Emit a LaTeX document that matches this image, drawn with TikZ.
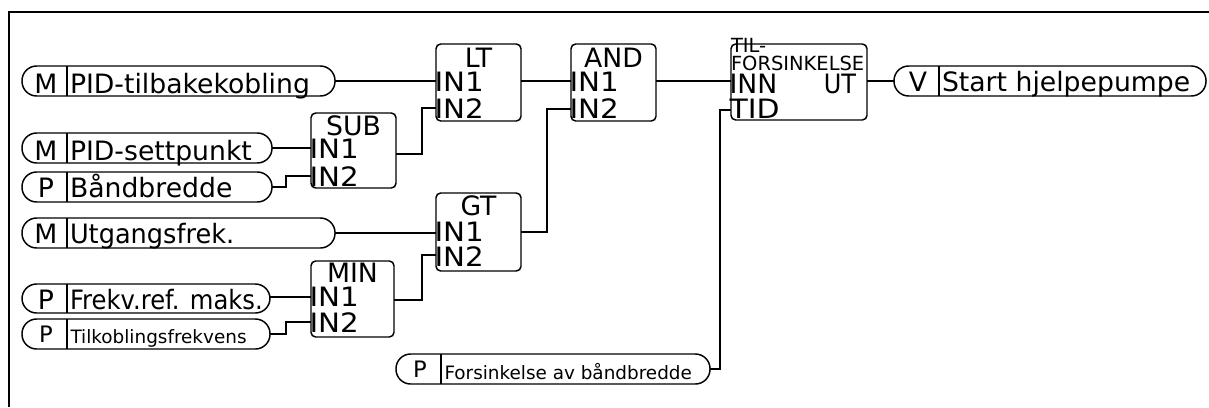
\documentclass[tikz,border=0pt]{standalone}
\usepackage{fontspec}
\setmainfont{DejaVu Sans}
\usetikzlibrary{fit}
\newcommand\fbig{\fontsize{20pt}{21pt}\selectfont}
\newcommand\fmed{\fontsize{14.6pt}{15pt}\selectfont}
\newcommand\fsmall{\fontsize{13.8pt}{14pt}\selectfont}
\newcommand\fletter{\fontsize{17pt}{18pt}\selectfont}
\newcommand\widen[2]{\scalebox{#1}[1]{#2}}
\tikzset{
  every node/.style={inner sep=0pt, outer sep=0pt},
  pill/.style={draw, line width=1.1pt, rounded corners=11pt},
  fblock/.style={draw, line width=1.1pt, rounded corners=3.5pt},
  wire/.style={line width=1.1pt},
  divider/.style={line width=1.1pt},
  frameline/.style={line width=1.5pt},
  capbig/.style={font=\fbig, text height=14.6pt, text depth=0pt},
  capmed/.style={font=\fmed, text height=10.6pt, text depth=0pt},
}
% name, x1, y1, x2, y2, letter, text, baseline offset from bottom
\newcommand\pillnode[8]{%
  \node[pill, fit={(#2,#3) (#4,#5)}] (#1) {};
  \draw[divider] (#2+45,#3) -- (#2+45,#5);
  \node[anchor=base, font=\fbig] (#1-l) at (#2+24,#5-#8) {#6};
  \node[anchor=base west, font=\fbig] (#1-t) at (#2+48,#5-#8) {#7};
}
\begin{document}
\begin{tikzpicture}[x=0.75pt,y=-0.75pt]
\useasboundingbox (0,0) rectangle (1209,407);
\draw[frameline] (9,407) -- (9,12) -- (1209,12);

% input / output pills
\pillnode{fb}{22}{66}{335}{96}{M}{PID-tilbakekobling}{3}
\pillnode{sp}{22}{133}{272}{163}{M}{PID-settpunkt}{3}
\pillnode{bb}{22}{172}{272}{202}{P}{Båndbredde}{5}
\pillnode{ug}{22}{218}{335}{248}{M}{\widen{0.96}{Utgangsfrek.}}{5}
\pillnode{fr}{22}{284}{270}{313}{P}{\widen{0.91}{Frekv.ref. maks.}}{4}
\node[pill, fit={(22,319) (270,349)}] (tk) {};
\draw[divider] (67,319) -- (67,349);
\node[anchor=base, font=\fletter] (tk-l) at (46,342) {P};
\node[anchor=base west, font=\fsmall] (tk-t) at (70.5,343) {Tilkoblingsfrekvens};
\node[pill, fit={(396,354) (710,384)}] (fs) {};
\draw[divider] (441,354) -- (441,384);
\node[anchor=base, font=\fletter] (fs-l) at (420,377) {P};
\node[anchor=base west, font=\fsmall] (fs-t) at (444.5,379) {Forsinkelse av båndbredde};
\pillnode{out}{894}{66}{1206}{96}{V}{Start hjelpepumpe}{5}

% function blocks
\node[fblock, fit={(311,113) (396,188)}] (sub) {};
\node[anchor=base, capbig] at (353.5,135) {SUB};
\node[anchor=base west, capbig] at (309.5,158) {\widen{1.1}{IN1}};
\node[anchor=base west, capbig] at (309.5,186) {\widen{1.1}{IN2}};
\coordinate (sub-in1) at (311,148);
\coordinate (sub-in2) at (311,176);
\coordinate (sub-out) at (396,154);

\node[fblock, fit={(436,44) (521,121)}] (lt) {};
\node[anchor=base, capbig] at (478.5,67) {LT};
\node[anchor=base west, capbig] at (434.5,91) {\widen{1.1}{IN1}};
\node[anchor=base west, capbig] at (434.5,118) {\widen{1.1}{IN2}};
\coordinate (lt-in1) at (436,81);
\coordinate (lt-in2) at (436,108);
\coordinate (lt-out) at (521,81);

\node[fblock, fit={(571,44) (656,121)}] (and) {};
\node[anchor=base, capbig] at (613.5,67) {AND};
\node[anchor=base west, capbig] at (569.5,91) {\widen{1.1}{IN1}};
\node[anchor=base west, capbig] at (569.5,118) {\widen{1.1}{IN2}};
\coordinate (and-in1) at (571,81);
\coordinate (and-in2) at (571,109);
\coordinate (and-out) at (656,81);

\node[fblock, fit={(436,193) (521,271)}] (gt) {};
\node[anchor=base, capbig] at (478.5,215) {GT};
\node[anchor=base west, capbig] at (434.5,241) {\widen{1.1}{IN1}};
\node[anchor=base west, capbig] at (434.5,266) {\widen{1.1}{IN2}};
\coordinate (gt-in1) at (436,233);
\coordinate (gt-in2) at (436,255);
\coordinate (gt-out) at (521,232);

\node[fblock, fit={(311,261) (394,337)}] (min) {};
\node[anchor=base, capbig] at (352.5,282) {MIN};
\node[anchor=base west, capbig] at (309.5,306) {\widen{1.1}{IN1}};
\node[anchor=base west, capbig] at (309.5,332) {\widen{1.1}{IN2}};
\coordinate (min-in1) at (311,297);
\coordinate (min-in2) at (311,322);
\coordinate (min-out) at (394,300);

\node[fblock, fit={(731,44) (867,120)}] (til) {};
\node[anchor=base west, capmed] at (731,52) {TIL-};
\node[anchor=base west, capmed] at (731,70.5) {FORSINKELSE};
\node[anchor=base west, capbig] at (729.5,93) {INN};
\node[anchor=base east, capbig] at (856,93) {\widen{0.9}{UT}};
\node[anchor=base west, capbig] at (729.5,118) {\widen{1.12}{TID}};
\coordinate (til-in) at (731,81);
\coordinate (til-tid) at (731,110);
\coordinate (til-out) at (867,81);

% connectors
\draw[wire] (fb.east) -- (lt-in1);
\draw[wire] (sp.east) -- (sub-in1);
\draw[wire] (bb.east) -- ++(14,0) |- (sub-in2);
\draw[wire] (sub-out) -- ++(26,0) |- (lt-in2);
\draw[wire] (ug.east) -- (gt-in1);
\draw[wire] (fr.east |- min-in1) -- (min-in1);
\draw[wire] (tk.east) -- ++(16,0) |- (min-in2);
\draw[wire] (min-out) -- ++(28,0) |- (gt-in2);
\draw[wire] (lt-out) -- (and-in1);
\draw[wire] (gt-out) -- ++(26,0) |- (and-in2);
\draw[wire] (and-out) -- (til-in);
\draw[wire] (fs.east) -- ++(10,0) |- (til-tid);
\draw[wire] (til-out) -- (out.west |- til-out);
\end{tikzpicture}
\end{document}
